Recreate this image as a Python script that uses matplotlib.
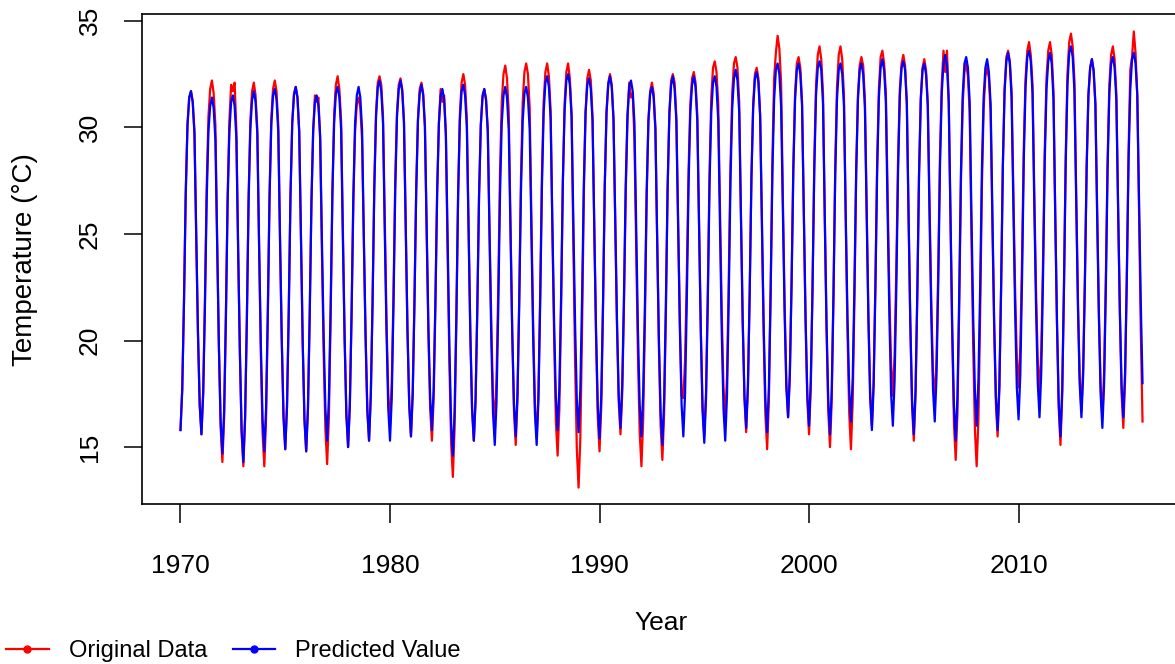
import numpy as np
import matplotlib
matplotlib.use("Agg")
import matplotlib.pyplot as plt
from matplotlib.lines import Line2D

plt.rcParams['font.family'] = ['Liberation Sans', 'DejaVu Sans']

# ---------------- data (monthly, Jan..Dec, 1970-2015) ----------------
start_year = 1970
months_per_year = 12

original_data = [
    [15.8, 17.7, 21.8, 26.9, 30.1, 31.4, 31.7, 31.2, 29.8, 24.9, 20.4, 17.0],  # 1970
    [15.6, 17.6, 21.9, 27.2, 30.5, 31.8, 32.2, 31.6, 30.1, 24.7, 19.7, 15.9],  # 1971
    [14.3, 16.4, 21.1, 26.8, 30.3, 32.0, 31.7, 32.1, 29.9, 24.5, 19.5, 15.7],  # 1972
    [14.1, 16.3, 20.9, 26.7, 30.3, 31.7, 32.1, 31.5, 29.9, 24.5, 19.5, 15.7],  # 1973
    [14.1, 16.3, 21.0, 26.8, 30.4, 31.8, 32.2, 31.7, 30.1, 24.9, 20.1, 16.5],  # 1974
    [14.9, 16.9, 21.4, 26.8, 30.2, 31.6, 31.9, 31.4, 29.8, 24.7, 19.9, 16.3],  # 1975
    [14.8, 16.8, 21.1, 26.5, 29.8, 31.5, 31.2, 31.4, 29.4, 24.2, 19.4, 15.8],  # 1976
    [14.2, 16.4, 21.1, 26.9, 30.6, 32.0, 32.4, 31.8, 30.3, 25.1, 20.2, 16.6],  # 1977
    [15.0, 17.0, 21.2, 26.5, 29.8, 31.1, 31.4, 30.9, 29.4, 24.6, 20.1, 16.7],  # 1978
    [15.3, 17.4, 21.8, 27.3, 30.7, 32.1, 32.4, 32.0, 30.5, 25.6, 20.9, 17.5],  # 1979
    [16.0, 18.0, 22.2, 27.5, 30.7, 32.0, 32.3, 31.8, 30.3, 25.3, 20.5, 17.0],  # 1980
    [15.5, 17.5, 21.8, 27.1, 30.4, 31.8, 32.1, 31.6, 30.1, 25.0, 20.3, 16.8],  # 1981
    [15.3, 17.3, 21.6, 26.9, 30.2, 31.8, 31.2, 31.5, 29.6, 24.1, 19.0, 15.2],  # 1982
    [13.6, 15.9, 20.8, 26.8, 30.6, 32.1, 32.5, 32.0, 30.4, 25.3, 20.4, 16.8],  # 1983
    [15.3, 17.2, 21.5, 26.8, 30.1, 31.4, 31.8, 31.3, 29.9, 25.2, 20.9, 17.3],  # 1984
    [16.2, 18.2, 22.5, 27.9, 31.2, 32.5, 32.9, 32.3, 30.7, 25.4, 20.4, 16.7],  # 1985
    [15.1, 17.2, 21.9, 27.6, 31.2, 32.6, 33.0, 32.5, 30.9, 25.6, 20.7, 17.0],  # 1986
    [15.4, 17.5, 22.1, 27.7, 31.2, 32.6, 33.0, 32.4, 30.8, 25.2, 20.1, 16.2],  # 1987
    [14.6, 16.8, 21.6, 27.4, 31.1, 32.6, 33.0, 32.3, 30.6, 24.6, 19.0, 14.9],  # 1988
    [13.1, 15.4, 20.5, 26.8, 30.7, 32.3, 32.7, 32.2, 30.5, 25.2, 20.2, 16.4],  # 1989
    [14.8, 16.9, 21.5, 27.2, 30.7, 32.1, 32.5, 32.0, 30.4, 25.4, 20.7, 17.1],  # 1990
    [15.6, 17.5, 21.6, 26.9, 30.3, 32.1, 31.4, 31.6, 29.4, 24.2, 19.3, 15.7],  # 1991
    [14.1, 16.3, 20.9, 26.7, 30.3, 31.7, 32.1, 31.6, 30.0, 24.7, 19.7, 16.0],  # 1992
    [14.4, 16.6, 21.3, 27.1, 30.7, 32.2, 32.5, 32.1, 30.5, 25.6, 21.0, 17.4],  # 1993
    [17.3, 19.1, 23.1, 28.0, 31.1, 32.3, 32.6, 32.1, 30.6, 25.5, 20.6, 17.0],  # 1994
    [15.5, 17.6, 22.2, 27.8, 31.4, 32.8, 33.1, 32.6, 31.1, 26.1, 21.3, 17.8],  # 1995
    [16.3, 18.3, 22.8, 28.2, 31.6, 33.0, 33.3, 32.8, 31.2, 25.9, 21.0, 17.3],  # 1996
    [15.7, 17.8, 22.2, 27.7, 31.1, 32.5, 32.8, 32.3, 30.6, 25.3, 20.3, 16.5],  # 1997
    [14.9, 17.2, 22.2, 28.4, 32.3, 33.5, 34.3, 33.7, 32.1, 26.7, 21.8, 18.0],  # 1998
    [16.4, 18.4, 22.8, 28.2, 31.6, 33.0, 33.3, 32.8, 31.2, 25.9, 20.9, 17.2],  # 1999
    [15.6, 17.8, 22.5, 28.3, 32.0, 33.4, 33.8, 33.2, 31.6, 25.9, 20.6, 16.7],  # 2000
    [15.0, 17.2, 22.1, 28.1, 31.9, 33.4, 33.8, 33.2, 31.5, 25.8, 20.5, 16.6],  # 2001
    [14.9, 17.1, 21.9, 27.8, 31.5, 32.9, 33.3, 32.9, 31.3, 26.1, 21.2, 17.6],  # 2002
    [16.0, 18.1, 22.7, 28.3, 31.8, 33.3, 33.6, 33.0, 31.6, 26.8, 22.2, 18.9],  # 2003
    [17.4, 19.3, 23.5, 28.6, 31.8, 33.0, 33.4, 32.9, 31.2, 25.8, 20.7, 16.9],  # 2004
    [15.3, 17.4, 22.1, 27.8, 31.4, 32.8, 33.2, 32.7, 31.2, 26.4, 21.9, 18.5],  # 2005
    [17.1, 19.1, 23.4, 28.7, 32.0, 33.6, 32.6, 33.6, 31.3, 25.6, 20.2, 16.1],  # 2006
    [14.4, 16.6, 21.5, 27.4, 31.1, 32.6, 33.0, 32.4, 30.7, 25.0, 19.8, 15.8],  # 2007
    [14.1, 16.3, 21.2, 27.2, 30.9, 32.4, 32.8, 32.3, 30.7, 25.5, 20.7, 17.1],  # 2008
    [15.5, 17.7, 22.4, 28.2, 31.8, 33.3, 33.6, 33.1, 31.7, 27.0, 22.5, 19.2],  # 2009
    [17.8, 19.7, 23.9, 29.1, 32.3, 33.6, 34.0, 33.4, 32.0, 27.0, 22.4, 19.0],  # 2010
    [17.5, 19.5, 23.7, 29.0, 32.3, 33.6, 34.0, 33.4, 31.7, 26.0, 20.8, 16.8],  # 2011
    [15.1, 17.4, 22.4, 28.6, 32.5, 34.0, 34.4, 33.8, 32.2, 26.9, 22.0, 18.3],  # 2012
    [16.7, 18.7, 22.9, 28.2, 31.5, 32.8, 33.2, 32.6, 31.1, 26.1, 21.4, 17.9],  # 2013
    [16.4, 18.5, 23.0, 28.5, 32.0, 33.4, 33.8, 33.2, 31.6, 26.3, 21.3, 17.5],  # 2014
    [15.9, 18.1, 23.0, 28.9, 32.7, 33.3, 34.5, 33.5, 31.5, 26.0, 20.5, 16.2],  # 2015
]

predicted_value = [
    [15.8, 17.7, 21.8, 26.9, 30.1, 31.4, 31.7, 31.2, 29.7, 24.9, 20.4, 17.0],  # 1970
    [15.6, 17.5, 21.6, 26.6, 29.8, 31.0, 31.4, 30.9, 29.4, 24.4, 19.7, 16.2],  # 1971
    [14.7, 16.7, 21.1, 26.5, 29.8, 31.2, 31.5, 31.0, 29.5, 24.3, 19.5, 15.8],  # 1972
    [14.3, 16.4, 20.9, 26.5, 29.9, 31.3, 31.7, 31.2, 29.7, 24.6, 19.9, 16.3],  # 1973
    [14.8, 16.8, 21.3, 26.7, 30.1, 31.5, 31.8, 31.3, 29.8, 24.7, 20.0, 16.4],  # 1974
    [14.9, 16.9, 21.3, 26.8, 30.2, 31.5, 31.9, 31.4, 29.8, 24.7, 19.9, 16.3],  # 1975
    [14.8, 16.8, 21.2, 26.5, 29.9, 31.2, 31.5, 31.0, 29.6, 24.7, 20.2, 16.8],  # 1976
    [15.3, 17.3, 21.6, 26.9, 30.2, 31.6, 31.9, 31.4, 29.9, 24.8, 20.1, 16.5],  # 1977
    [15.0, 17.0, 21.4, 26.8, 30.2, 31.5, 31.9, 31.4, 29.9, 24.9, 20.3, 16.8],  # 1978
    [15.3, 17.4, 21.7, 27.1, 30.5, 31.9, 32.2, 31.7, 30.2, 25.1, 20.4, 16.8],  # 1979
    [15.3, 17.3, 21.7, 27.1, 30.5, 31.8, 32.2, 31.7, 30.2, 25.2, 20.5, 17.0],  # 1980
    [15.5, 17.5, 21.8, 27.0, 30.3, 31.6, 32.0, 31.5, 30.0, 25.2, 20.6, 17.3],  # 1981
    [15.8, 17.7, 21.9, 27.0, 30.2, 31.5, 31.8, 31.3, 29.7, 24.6, 19.8, 16.1],  # 1982
    [14.6, 16.7, 21.2, 26.8, 30.3, 31.7, 32.0, 31.5, 30.0, 25.0, 20.3, 16.8],  # 1983
    [15.3, 17.2, 21.5, 26.8, 30.1, 31.5, 31.8, 31.3, 29.8, 24.8, 20.1, 16.6],  # 1984
    [15.1, 17.1, 21.5, 26.8, 30.2, 31.5, 31.9, 31.4, 29.9, 25.0, 20.4, 17.0],  # 1985
    [15.5, 17.5, 21.7, 27.0, 30.3, 31.6, 31.9, 31.4, 29.9, 24.9, 20.1, 16.6],  # 1986
    [15.1, 17.2, 21.7, 27.2, 30.7, 32.1, 32.4, 31.9, 30.4, 25.4, 20.8, 17.3],  # 1987
    [15.8, 17.8, 22.1, 27.5, 30.8, 32.2, 32.5, 32.0, 30.5, 25.5, 20.8, 17.2],  # 1988
    [15.7, 17.7, 22.0, 27.3, 30.7, 32.0, 32.3, 31.8, 30.3, 25.2, 20.5, 16.9],  # 1989
    [15.4, 17.4, 21.8, 27.3, 30.7, 32.0, 32.4, 31.9, 30.4, 25.5, 20.9, 17.4],  # 1990
    [15.9, 17.9, 22.1, 27.3, 30.6, 31.9, 32.2, 31.7, 30.2, 25.2, 20.5, 17.0],  # 1991
    [15.5, 17.5, 21.7, 27.0, 30.3, 31.6, 31.9, 31.4, 29.9, 24.8, 20.1, 16.6],  # 1992
    [15.1, 17.2, 21.7, 27.2, 30.6, 32.0, 32.4, 31.8, 30.3, 25.3, 20.6, 17.0],  # 1993
    [15.5, 17.5, 21.9, 27.3, 30.7, 32.0, 32.4, 31.9, 30.3, 25.2, 20.4, 16.7],  # 1994
    [15.2, 17.3, 21.8, 27.3, 30.7, 32.1, 32.4, 31.9, 30.3, 25.2, 20.4, 16.8],  # 1995
    [15.3, 17.4, 21.9, 27.5, 30.9, 32.3, 32.7, 32.2, 30.7, 25.7, 20.9, 17.4],  # 1996
    [15.9, 17.9, 22.2, 27.6, 30.9, 32.3, 32.6, 32.1, 30.5, 25.5, 20.8, 17.2],  # 1997
    [15.7, 17.8, 22.3, 27.8, 31.3, 32.7, 33.0, 32.5, 31.0, 26.0, 21.3, 17.8],  # 1998
    [16.4, 18.4, 22.7, 28.0, 31.3, 32.7, 33.0, 32.5, 31.0, 25.9, 21.1, 17.5],  # 1999
    [16.0, 18.1, 22.5, 28.0, 31.5, 32.8, 33.1, 32.7, 31.1, 25.8, 20.9, 17.2],  # 2000
    [15.6, 17.7, 22.2, 27.8, 31.3, 32.7, 33.0, 32.5, 31.0, 25.9, 21.2, 17.7],  # 2001
    [16.2, 18.2, 22.6, 28.0, 31.3, 32.7, 33.0, 32.5, 30.9, 25.8, 21.0, 17.3],  # 2002
    [15.8, 17.9, 22.4, 27.9, 31.4, 32.8, 33.2, 32.7, 31.2, 26.0, 21.2, 17.5],  # 2003
    [16.0, 18.1, 22.5, 28.0, 31.5, 32.8, 33.1, 32.7, 31.1, 25.8, 20.9, 17.2],  # 2004
    [15.6, 17.7, 22.2, 27.8, 31.3, 32.7, 33.0, 32.5, 31.0, 25.9, 21.2, 17.7],  # 2005
    [16.2, 18.3, 22.7, 28.2, 31.6, 33.0, 33.4, 32.9, 31.2, 25.8, 20.7, 16.9],  # 2006
    [15.3, 17.4, 22.1, 27.9, 31.5, 33.0, 33.3, 32.8, 31.2, 26.0, 21.2, 17.6],  # 2007
    [16.0, 18.1, 22.5, 28.0, 31.4, 32.8, 33.2, 32.6, 31.1, 25.9, 21.0, 17.4],  # 2008
    [15.8, 17.9, 22.5, 28.2, 31.7, 33.1, 33.5, 33.0, 31.4, 26.3, 21.5, 17.8],  # 2009
    [16.3, 18.4, 22.9, 28.5, 31.9, 33.3, 33.6, 33.1, 31.6, 26.4, 21.6, 18.0],  # 2010
    [16.4, 18.5, 22.9, 28.4, 31.8, 33.1, 33.5, 33.0, 31.3, 25.9, 20.9, 17.1],  # 2011
    [15.5, 17.7, 22.5, 28.3, 32.0, 33.5, 33.8, 33.3, 31.7, 26.5, 21.6, 18.0],  # 2012
    [16.4, 18.4, 22.8, 28.1, 31.5, 32.8, 33.2, 32.7, 31.1, 25.9, 21.1, 17.5],  # 2013
    [15.9, 18.0, 22.5, 28.1, 31.6, 33.0, 33.3, 32.8, 31.3, 26.2, 21.5, 17.9],  # 2014
    [16.4, 18.5, 22.9, 28.4, 31.8, 33.2, 33.5, 33.0, 31.5, 26.5, 21.8, 18.0],  # 2015
]

x_ticks = [1970, 1980, 1990, 2000, 2010]
y_ticks = [15, 20, 25, 30, 35]
series_labels = ["Original Data", "Predicted Value"]
series_colors = ["red", "blue"]

# ---------------- plotting ----------------
orig = np.array(original_data).ravel()
pred = np.array(predicted_value).ravel()
t = start_year + np.arange(orig.size) / months_per_year

W, H = 1175, 664
fig = plt.figure(figsize=(W / 100, H / 100), dpi=100)
left_px, right_px, top_px, bottom_px = 142, 1181, 14, 504
ax = fig.add_axes([left_px / W, (H - bottom_px) / H,
                   (right_px - left_px) / W, (bottom_px - top_px) / H])

ax.plot(t, orig, color=series_colors[0], lw=1.6, zorder=2)
ax.plot(t, pred, color=series_colors[1], lw=1.6, zorder=3)

ax.set_xlim(1968.163, 2017.753)
ax.set_ylim(12.33, 35.32)
ax.set_xticks(x_ticks)
ax.set_yticks(y_ticks)
ax.set_xticklabels([str(v) for v in x_ticks], fontsize=19)
ax.set_yticklabels([str(v) for v in y_ticks], fontsize=19, rotation=90, va='center')
ax.tick_params(axis='x', direction='out', length=14, width=1.1, pad=22, colors='black')
ax.tick_params(axis='y', direction='out', length=13, width=1.1, pad=16, colors='black')
for s in ax.spines.values():
    s.set_linewidth(1.2)
    s.set_color('black')

fig.text(661 / W, (H - 623) / H, "Year", fontsize=19, ha='center', va='center')
fig.text(25 / W, (H - 259.5) / H, "Temperature (°C)", fontsize=20,
         ha='center', va='center', rotation=90)

handles = [Line2D([0], [0], color=c, lw=1.6, marker='o', ms=5) for c in series_colors]
fig.legend(handles, series_labels, loc='center left',
           bbox_to_anchor=(6 / W, (H - 651) / H), ncol=2, frameon=False,
           fontsize=17, handlelength=1.8, handletextpad=0.85, columnspacing=1.1,
           borderpad=0, borderaxespad=0)

fig.savefig("out.png", dpi=100)
